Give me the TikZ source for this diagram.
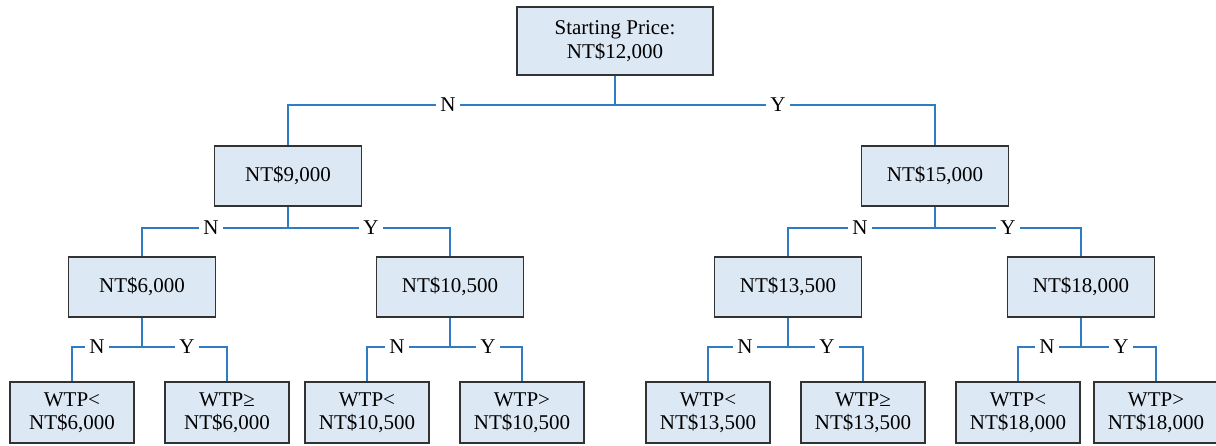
\documentclass[tikz,border=0pt]{standalone}
\usepackage{fontspec}
\setmainfont{Liberation Serif}
\definecolor{boxfill}{HTML}{DDE8F5}
\definecolor{boxline}{HTML}{333333}
\definecolor{connblue}{HTML}{2F7BC4}
\begin{document}
\begin{tikzpicture}[x=1pt,y=-1pt,
  box/.style={draw=boxline,fill=boxfill,line width=1.3pt,rectangle,align=center,inner sep=0pt,font=\fontsize{21}{23.5}\selectfont},
  rootbox/.style={box,minimum width=196pt,minimum height=68pt},
  midbox/.style={box,minimum width=147pt,minimum height=60pt},
  leafbox/.style={box,minimum width=124pt,minimum height=61pt},
  conn/.style={draw=connblue,line width=1.3pt},
  lab/.style={fill=white,inner sep=4pt,font=\fontsize{21}{24}\selectfont}]
\useasboundingbox (0,0) rectangle (1216,445);
% nodes
\node[rootbox] (root) at (615,41) {Starting Price:\\NT\$12,000};
\node[midbox] (a) at (288,176) {NT\$9,000};
\node[midbox] (b) at (935,176) {NT\$15,000};
\node[midbox] (aa) at (142,287) {NT\$6,000};
\node[midbox] (ab) at (450,287) {NT\$10,500};
\node[midbox] (ba) at (788,287) {NT\$13,500};
\node[midbox] (bb) at (1081,287) {NT\$18,000};
\node[leafbox] (aaa) at (72,412.5) {WTP<\\NT\$6,000};
\node[leafbox] (aab) at (227,412.5) {WTP≥\\NT\$6,000};
\node[leafbox] (aba) at (367,412.5) {WTP<\\NT\$10,500};
\node[leafbox] (abb) at (522,412.5) {WTP>\\NT\$10,500};
\node[leafbox] (baa) at (708,412.5) {WTP<\\NT\$13,500};
\node[leafbox] (bab) at (863,412.5) {WTP≥\\NT\$13,500};
\node[leafbox] (bba) at (1018,412.5) {WTP<\\NT\$18,000};
\node[leafbox] (bbb) at (1156,412.5) {WTP>\\NT\$18,000};
% bar levels
\coordinate (y1) at (0,105);
\coordinate (y2) at (0,228);
\coordinate (y3) at (0,347);
% connectors
\draw[conn] (root.south) -- (root.south |- y1) -| (a.north);
\draw[conn] (root.south |- y1) -| (b.north);
\draw[conn] (a.south) -- (a.south |- y2) -| (aa.north);
\draw[conn] (a.south |- y2) -| (ab.north);
\draw[conn] (b.south) -- (b.south |- y2) -| (ba.north);
\draw[conn] (b.south |- y2) -| (bb.north);
\draw[conn] (aa.south) -- (aa.south |- y3) -| (aaa.north);
\draw[conn] (aa.south |- y3) -| (aab.north);
\draw[conn] (ab.south) -- (ab.south |- y3) -| (aba.north);
\draw[conn] (ab.south |- y3) -| (abb.north);
\draw[conn] (ba.south) -- (ba.south |- y3) -| (baa.north);
\draw[conn] (ba.south |- y3) -| (bab.north);
\draw[conn] (bb.south) -- (bb.south |- y3) -| (bba.north);
\draw[conn] (bb.south |- y3) -| (bbb.north);
% labels
\node[lab] (l1n) at (448,105) {N};
\node[lab] (l1y) at (778,105) {Y};
\node[lab] (l2an) at (211,228) {N};
\node[lab] (l2ay) at (371,228) {Y};
\node[lab] (l2bn) at (860,228) {N};
\node[lab] (l2by) at (1008,228) {Y};
\node[lab] (l3aan) at (97,347) {N};
\node[lab] (l3aay) at (187,347) {Y};
\node[lab] (l3abn) at (397,347) {N};
\node[lab] (l3aby) at (488,347) {Y};
\node[lab] (l3ban) at (745,347) {N};
\node[lab] (l3bay) at (827,347) {Y};
\node[lab] (l3bbn) at (1047,347) {N};
\node[lab] (l3bby) at (1121,347) {Y};
\end{tikzpicture}
\end{document}
